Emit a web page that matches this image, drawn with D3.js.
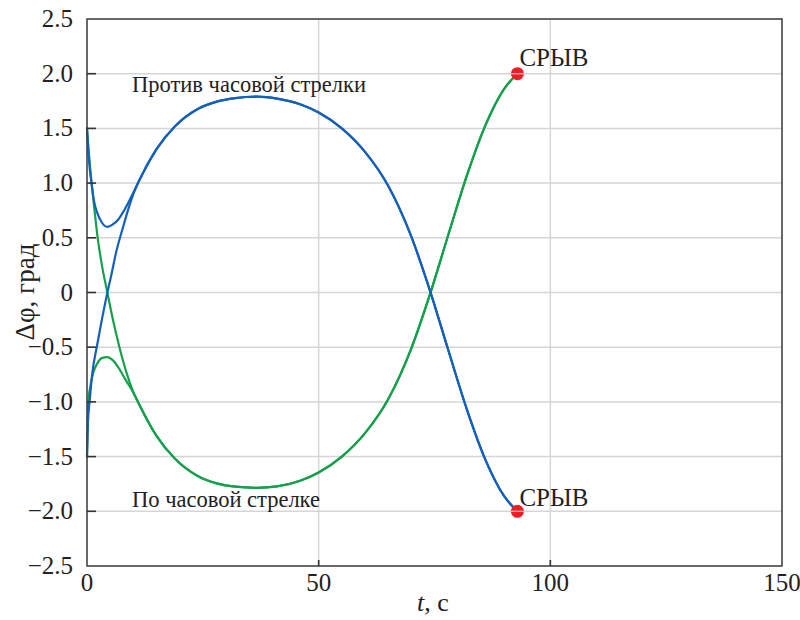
<!DOCTYPE html>
<html><head><meta charset="utf-8">
<script src="https://cdn.jsdelivr.net/npm/d3@7"></script>
</head><body style="margin:0;background:#fff">
<svg id="c" width="800" height="620" style="display:block"></svg>
<script>
// ---- data ----
const xTicks = [0, 50, 100, 150];
const yTicks = [-2.5, -2.0, -1.5, -1.0, -0.5, 0, 0.5, 1.0, 1.5, 2.0, 2.5];
const yTickLabels = ["\u22122.5","\u22122.0","\u22121.5","\u22121.0","\u22120.5","0","0.5","1.0","1.5","2.0","2.5"];

// merged (steady) part, t from 11 s until the stall
const tMain     = [11, 15, 19, 24, 28, 32, 36.6, 41, 46, 50, 55, 60, 65, 70, 74, 78, 82, 86, 90, 92.9];
const blueMain  = [1.0, 1.31, 1.52, 1.68, 1.745, 1.777, 1.79, 1.772, 1.72, 1.645, 1.50, 1.285, 0.975, 0.51, 0.02, -0.53, -1.07, -1.53, -1.86, -2.0];
const greenMain = [-1.0, -1.31, -1.52, -1.68, -1.745, -1.775, -1.785, -1.772, -1.72, -1.645, -1.50, -1.285, -0.975, -0.51, -0.02, 0.53, 1.07, 1.53, 1.86, 2.0];

// transients (start at +1.5 / -1.5), up to the merge at t = 11 s
const tBlueUp  = [0, 0.3, 0.6, 1.0, 1.5, 2.2, 3.2, 4.4, 5.5, 6.8, 8.0, 9.5];
const blueUp   = [1.5, 1.28, 1.13, 0.99, 0.84, 0.73, 0.64, 0.60, 0.62, 0.67, 0.75, 0.87];
const tBlueDn  = [0, 0.2, 0.6, 1.2, 2.1, 3.2, 4.4, 5.3, 6.3, 7.8, 8.9, 10];
const blueDn   = [-1.5, -1.2, -0.98, -0.72, -0.5, -0.25, 0, 0.17, 0.37, 0.6, 0.76, 0.9];
const tGreenDn = [0, 0.4, 1.0, 1.6, 2.3, 3.3, 4.4, 5.6, 7.0, 8.5, 10];
const greenDn  = [1.5, 1.28, 1.0, 0.76, 0.5, 0.23, 0, -0.25, -0.5, -0.73, -0.91];
const tGreenUp = [0, 0.15, 0.3, 0.7, 1.3, 2.2, 3.2, 4.4, 5.6, 7.0, 8.5, 9.8];
const greenUp  = [-1.5, -1.2, -1.0, -0.86, -0.74, -0.65, -0.6, -0.59, -0.62, -0.7, -0.81, -0.9];

const stallT = [92.9, 92.9];
const stallY = [2.0, -2.0];
const stallLabel = ["СРЫВ", "СРЫВ"];
const annotations = ["Против часовой стрелки", "По часовой стрелке"];
const annotT = [9.5, 9.5];
const annotY = [1.83, -1.965];

// ---- drawing ----
const svg = d3.select("#c").style("font-family", '"Liberation Serif"', "important");
const FONT = '"Liberation Serif"';
const L = 87, R = 782, T = 19, B = 566;
const x = d3.scaleLinear().domain([0, 150]).range([L, R]);
const y = d3.scaleLinear().domain([-2.5, 2.5]).range([B, T]);
const BLUE = "#1560b8", GREEN = "#16a04c", RED = "#ee1c25";
const txt = (sel, size) => sel.style("font-family", FONT, "important").style("font-size", size + "px", "important").attr("fill", "#222");

// grid
const grid = svg.append("g");
grid.selectAll("line.gy").data(yTicks.slice(1, -1)).join("line")
  .attr("x1", L).attr("x2", R).attr("y1", d => y(d)).attr("y2", d => y(d))
  .attr("stroke", "#d6d6d6").attr("stroke-width", 1.5);
grid.selectAll("line.gx").data(xTicks.slice(1, -1)).join("line")
  .attr("x1", d => x(d)).attr("x2", d => x(d)).attr("y1", T).attr("y2", B)
  .attr("stroke", "#d6d6d6").attr("stroke-width", 1.5);

// curves: each transient continues into the common steady branch
const line = d3.line().x(d => x(d[0])).y(d => y(d[1])).curve(d3.curveMonotoneX);
const zip = (a, b) => a.map((v, i) => [v, b[i]]);
const curves = [
  [zip(tGreenDn, greenDn).concat(zip(tMain, greenMain)), GREEN, 2.2],
  [zip(tGreenUp, greenUp).concat(zip(tMain, greenMain)), GREEN, 2.2],
  [zip(tBlueDn, blueDn).concat(zip(tMain, blueMain)), BLUE, 2.2],
  [zip(tBlueUp, blueUp).concat(zip(tMain, blueMain)), BLUE, 2.2],
];
svg.append("g").selectAll("path").data(curves).join("path")
  .attr("d", d => line(d[0])).attr("fill", "none")
  .attr("stroke", d => d[1]).attr("stroke-width", d => d[2])
  .attr("stroke-linecap", "round").attr("stroke-linejoin", "round");

// stall points
const pointsG = svg.append("g");
pointsG.selectAll("circle").data(stallT).join("circle")
  .attr("cx", d => x(d)).attr("cy", (d, i) => y(stallY[i])).attr("r", 6.5).attr("fill", RED);
pointsG.selectAll("line").data(stallT).join("line")
  .attr("x1", d => x(d) - 6.5).attr("x2", d => x(d) + 6.5)
  .attr("y1", (d, i) => y(stallY[i])).attr("y2", (d, i) => y(stallY[i]))
  .attr("stroke", "#f5b5b5").attr("stroke-width", 1.3);
stallT.forEach((d, i) => {
  txt(svg.append("text").attr("x", x(d) + 2).attr("y", y(stallY[i]) - (i === 0 ? 8 : 5)), 25).text(stallLabel[i]);
});

// annotations
annotations.forEach((d, i) => {
  txt(svg.append("text").attr("x", x(annotT[i]) + 1).attr("y", y(annotY[i])), 22.5).text(d);
});

// frame
svg.append("rect").attr("x", L).attr("y", T).attr("width", R - L).attr("height", B - T)
  .attr("fill", "none").attr("stroke", "#444").attr("stroke-width", 1.6);

// y ticks (inward) and labels
svg.append("g").selectAll("line").data(yTicks.slice(1, -1)).join("line")
  .attr("x1", L).attr("x2", L + 9).attr("y1", d => y(d)).attr("y2", d => y(d))
  .attr("stroke", "#333").attr("stroke-width", 1.6);
yTicks.forEach((d, i) => {
  txt(svg.append("text").attr("x", L - 14).attr("y", y(d) + 8).attr("text-anchor", "end"), 25).text(yTickLabels[i]);
});

// x ticks and labels
svg.append("g").selectAll("line").data(xTicks.slice(1, -1)).join("line")
  .attr("x1", d => x(d)).attr("x2", d => x(d)).attr("y1", B).attr("y2", B - 6)
  .attr("stroke", "#333").attr("stroke-width", 1.6);
xTicks.forEach(d => {
  txt(svg.append("text").attr("x", x(d)).attr("y", B + 25).attr("text-anchor", "middle"), 25).text(d);
});

// axis titles
const xt = txt(svg.append("text").attr("x", 433).attr("y", 611).attr("text-anchor", "middle"), 26);
xt.append("tspan").style("font-style", "italic").text("t");
xt.append("tspan").text(", с");
txt(svg.append("text").attr("transform", "translate(34,292) rotate(-90)").attr("text-anchor", "middle"), 27)
  .text("Δφ, град");
</script>
</body></html>
